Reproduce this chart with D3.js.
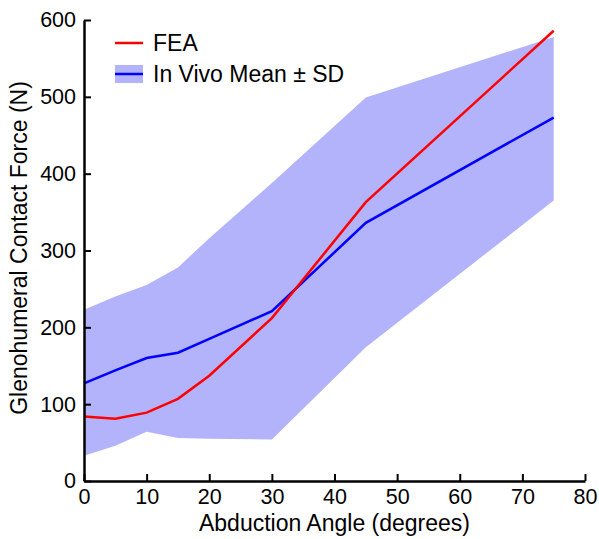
<!DOCTYPE html>
<head>
  <meta charset="utf-8">
  <script src="https://d3js.org/d3.v7.min.js"></script>
  <style>
    body { margin:0; background:#fff; }
    text { font-family: "Liberation Sans", Arial, sans-serif; }
  </style>
</head>
<body>
<svg width="599" height="539"></svg>
<script>

const angles   = [0, 5, 10, 15, 20, 30, 45, 75]
const fea      = [84, 81, 89, 107, 137, 212, 363, 586]
const vivoMean = [127, 144, 160, 167, 185, 221, 336, 473]
const vivoHi   = [223, 240, 255, 278, 316, 388, 499, 578]
const vivoLo   = [33, 46, 64, 56, 55, 54, 174, 365]
const xTicks   = [0, 10, 20, 30, 40, 50, 60, 70, 80]
const yTicks   = [0, 100, 200, 300, 400, 500, 600]

const svg = d3.select("svg"),
      margin = {top: 20, right: 14, bottom: 58, left: 84},
      width = +svg.attr("width") - margin.left - margin.right,
      height = +svg.attr("height") - margin.top - margin.bottom

const g = svg.append("g").attr("transform", `translate(${margin.left},${margin.top})`)

const x = d3.scaleLinear().domain([0, 80]).range([0, width])
const y = d3.scaleLinear().domain([0, 600]).range([height, 0])

const rows = angles.map((a, i) => ({a, fea: fea[i], m: vivoMean[i], hi: vivoHi[i], lo: vivoLo[i]}))

g.append("path")
  .datum(rows)
  .attr("fill", "#b3b3fb")
  .attr("d", d3.area().x(d => x(d.a)).y0(d => y(d.lo)).y1(d => y(d.hi)))

g.append("path")
  .datum(rows)
  .attr("fill", "none").attr("stroke", "#0000ff").attr("stroke-width", 2.5)
  .attr("d", d3.line().x(d => x(d.a)).y(d => y(d.m)))

g.append("path")
  .datum(rows)
  .attr("fill", "none").attr("stroke", "#ff0000").attr("stroke-width", 2.5)
  .attr("d", d3.line().x(d => x(d.a)).y(d => y(d.fea)))

const xAxis = g.append("g")
  .attr("transform", `translate(0,${height})`)
  .call(d3.axisBottom(x).tickValues(xTicks).tickSizeInner(-7).tickSizeOuter(0).tickPadding(6))
const yAxis = g.append("g")
  .call(d3.axisLeft(y).tickValues(yTicks).tickSizeInner(-7).tickSizeOuter(0).tickPadding(8))

for (const ax of [xAxis, yAxis]) {
  ax.select(".domain").attr("stroke", "#000").attr("stroke-width", 2.5)
  ax.selectAll(".tick line").attr("stroke", "#000").attr("stroke-width", 2)
  ax.selectAll(".tick text").attr("font-size", 21.5).attr("fill", "#000")
    .attr("font-family", "Liberation Sans, Arial, sans-serif")
}
xAxis.selectAll(".tick text").attr("dy", "0.8em")

svg.append("text")
  .attr("x", margin.left + width / 2).attr("y", 531)
  .attr("text-anchor", "middle").attr("font-size", 23)
  .text("Abduction Angle (degrees)")

svg.append("text")
  .attr("transform", `translate(27,248) rotate(-90)`)
  .attr("text-anchor", "middle").attr("font-size", 23)
  .text("Glenohumeral Contact Force (N)")

// legend
const lg = svg.append("g").attr("transform", "translate(115,43)")
lg.append("line").attr("x1", 0).attr("x2", 28).attr("y1", 0).attr("y2", 0)
  .attr("stroke", "#ff0000").attr("stroke-width", 2.5)
lg.append("text").attr("x", 38).attr("y", 0).attr("dy", "0.35em")
  .attr("font-size", 23).text("FEA")
lg.append("rect").attr("x", 0).attr("y", 22).attr("width", 28).attr("height", 18)
  .attr("fill", "#b3b3fb")
lg.append("line").attr("x1", 0).attr("x2", 28).attr("y1", 31).attr("y2", 31)
  .attr("stroke", "#0000ff").attr("stroke-width", 2.5)
lg.append("text").attr("x", 38).attr("y", 31).attr("dy", "0.35em")
  .attr("font-size", 23).text("In Vivo Mean ± SD")

</script>
</body>
